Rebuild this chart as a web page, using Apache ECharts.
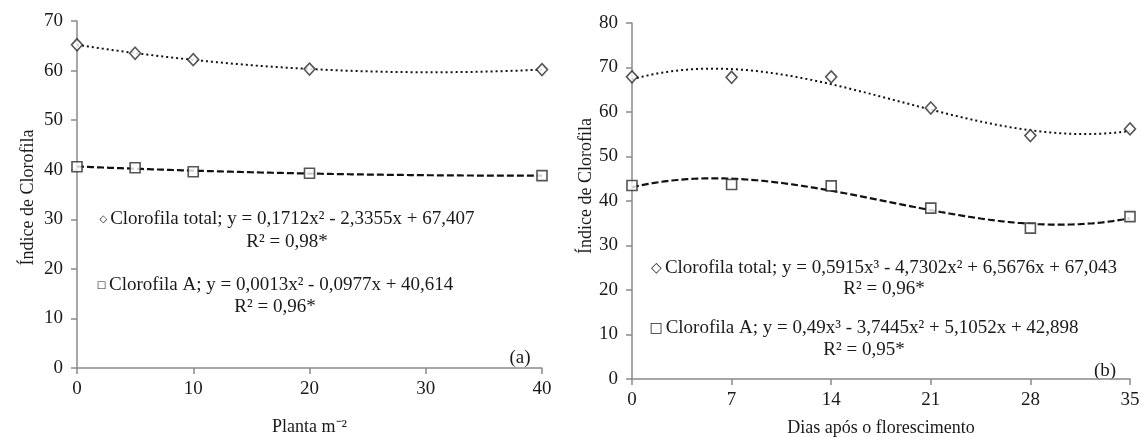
<!DOCTYPE html>
<html>
<head>
<meta charset="utf-8">
<script src="https://cdn.jsdelivr.net/npm/echarts@6/dist/echarts.min.js"></script>
<style>
  html, body { margin: 0; padding: 0; background: #fff; }
  #chart { width: 1141px; height: 437px; }
</style>
</head>
<body>
<div id="chart"></div>
<script>
// Panel (a): chlorophyll index vs. plant density
const densityX = [0, 5, 10, 20, 40];
const densityTotal = [65.2, 63.5, 62.2, 60.3, 60.2];
const densityA = [40.6, 40.4, 39.6, 39.3, 38.8];

// Panel (b): chlorophyll index vs. days after flowering
const daysX = [0, 7, 14, 21, 28, 35];
const daysTotal = [67.9, 67.8, 67.9, 60.9, 54.7, 56.2];
const daysA = [43.5, 43.7, 43.4, 38.4, 33.9, 36.5];

const yTitle = 'Índice de Clorofila';
const xTitleA = 'Planta m⁻²';
const xTitleB = 'Dias após o florescimento';
const panelTags = ['(a)', '(b)'];

const eqA = [
  ['Clorofila total; y = 0,1712x² - 2,3355x + 67,407', 'R² = 0,98*'],
  ['Clorofila A; y = 0,0013x² - 0,0977x + 40,614', 'R² = 0,96*']
];
const eqB = [
  ['Clorofila total; y = 0,5915x³ - 4,7302x² + 6,5676x + 67,043', 'R² = 0,96*'],
  ['Clorofila A; y = 0,49x³ - 3,7445x² + 5,1052x + 42,898', 'R² = 0,95*']
];

// Least-squares polynomial fit (normal equations + Gaussian elimination)
function polyfit(xs, ys, deg) {
  const n = deg + 1;
  const M = [];
  for (let r = 0; r < n; r++) {
    const row = [];
    for (let c = 0; c < n; c++) {
      let s = 0;
      xs.forEach(x => { s += Math.pow(x, r + c); });
      row.push(s);
    }
    let t = 0;
    xs.forEach((x, i) => { t += ys[i] * Math.pow(x, r); });
    row.push(t);
    M.push(row);
  }
  for (let i = 0; i < n; i++) {
    let p = i;
    for (let k = i + 1; k < n; k++) if (Math.abs(M[k][i]) > Math.abs(M[p][i])) p = k;
    [M[i], M[p]] = [M[p], M[i]];
    for (let k = i + 1; k < n; k++) {
      const f = M[k][i] / M[i][i];
      for (let c = i; c <= n; c++) M[k][c] -= f * M[i][c];
    }
  }
  const coef = new Array(n).fill(0);
  for (let i = n - 1; i >= 0; i--) {
    let s = M[i][n];
    for (let c = i + 1; c < n; c++) s -= M[i][c] * coef[c];
    coef[i] = s / M[i][i];
  }
  return coef;
}
function trend(xs, ys, deg, xmax) {
  const c = polyfit(xs, ys, deg);
  const out = [];
  for (let x = 0; x <= xmax + 1e-9; x += xmax / 200) {
    let y = 0;
    c.forEach((k, i) => { y += k * Math.pow(x, i); });
    out.push([x, y]);
  }
  return out;
}
const pairs = (xs, ys) => xs.map((x, i) => [x, ys[i]]);

const FONT = '"Liberation Serif", "Times New Roman", serif';
const TXT = '#1a1a1a';
const AXIS = '#8a8a8a';

function xAxis(idx, max, interval, name, gap) {
  return {
    type: 'value', gridIndex: idx, min: 0, max: max, interval: interval,
    name: name, nameLocation: 'middle', nameGap: gap,
    nameTextStyle: { fontFamily: FONT, fontSize: 18, color: TXT },
    axisLine: { show: true, onZero: false, lineStyle: { color: AXIS, width: 1.5 } },
    axisTick: { show: true, inside: false, length: 6, lineStyle: { color: AXIS, width: 1.5 } },
    axisLabel: { fontFamily: FONT, fontSize: 19, color: TXT, margin: 12 },
    splitLine: { show: false }
  };
}
function yAxis(idx, max, gap, pad) {
  return {
    type: 'value', gridIndex: idx, min: 0, max: max, interval: 10,
    name: yTitle, nameLocation: 'middle', nameGap: gap, nameRotate: 90,
    nameTextStyle: { fontFamily: FONT, fontSize: 18, color: TXT, padding: pad },
    axisLine: { show: true, onZero: false, lineStyle: { color: AXIS, width: 1.5 } },
    axisTick: { show: true, inside: false, length: 6, lineStyle: { color: AXIS, width: 1.5 } },
    axisLabel: { fontFamily: FONT, fontSize: 19, color: TXT, margin: 14 },
    splitLine: { show: false }
  };
}
function points(idx, data, symbol, size) {
  return {
    type: 'scatter', xAxisIndex: idx, yAxisIndex: idx, data: data,
    symbol: symbol, symbolSize: size, z: 5,
    itemStyle: { color: '#fff', borderColor: '#2a2a2a', borderWidth: 1.6 }
  };
}
function curve(idx, data, dash, width) {
  return {
    type: 'line', xAxisIndex: idx, yAxisIndex: idx, data: data,
    showSymbol: false, smooth: false, z: 3, silent: true,
    lineStyle: { color: '#111', width: width, type: dash }
  };
}
function eqBlock(lines, glyph, glyphSize, cx, cy, lh) {
  return {
    type: 'text', x: cx, y: cy,
    style: {
      text: '{g|' + glyph + '}' + lines[0] + '\n' + lines[1],
      rich: { g: { fontSize: glyphSize, fontFamily: '"DejaVu Sans", sans-serif', fill: TXT, padding: [0, 3, 0, 0] } },
      font: '19px ' + FONT, fill: TXT,
      align: 'center', verticalAlign: 'top', lineHeight: lh
    }
  };
}
function tag(text, cx, cy) {
  return {
    type: 'text', x: cx, y: cy,
    style: { text: text, font: '19px ' + FONT, fill: TXT, align: 'center', verticalAlign: 'middle' }
  };
}

const chart = echarts.init(document.getElementById('chart'), null, { renderer: 'canvas' });
chart.setOption({
  backgroundColor: '#fff',
  animation: false,
  grid: [
    { left: 77, top: 21, width: 465, height: 347, containLabel: false, outerBoundsMode: 'none' },
    { left: 632, top: 23, width: 498, height: 356, containLabel: false, outerBoundsMode: 'none' }
  ],
  xAxis: [xAxis(0, 40, 10, xTitleA, 50), xAxis(1, 35, 7, xTitleB, 40)],
  yAxis: [yAxis(0, 70, 40, [0, 6, 0, 0]), yAxis(1, 80, 35, [0, 0, 0, 30])],
  series: [
    curve(0, trend(densityX, densityTotal, 2, 40), [2, 3], 2),
    curve(0, trend(densityX, densityA, 2, 40), [7, 3], 2.2),
    points(0, pairs(densityX, densityTotal), 'diamond', [11, 12]),
    points(0, pairs(densityX, densityA), 'rect', 10),
    curve(1, trend(daysX, daysTotal, 3, 35), [2, 3], 2),
    curve(1, trend(daysX, daysA, 3, 35), [7, 3], 2.2),
    points(1, pairs(daysX, daysTotal), 'diamond', [11, 12]),
    points(1, pairs(daysX, daysA), 'rect', 10)
  ],
  graphic: [
    eqBlock(eqA[0], '◇', 10, 287, 208, 23),
    eqBlock(eqA[1], '□', 10, 275, 274, 22),
    eqBlock(eqB[0], '◇', 14, 884, 258, 21),
    eqBlock(eqB[1], '□', 14, 864, 317, 22),
    tag(panelTags[0], 520, 358),
    tag(panelTags[1], 1105, 371)
  ]
});
</script>
</body>
</html>
